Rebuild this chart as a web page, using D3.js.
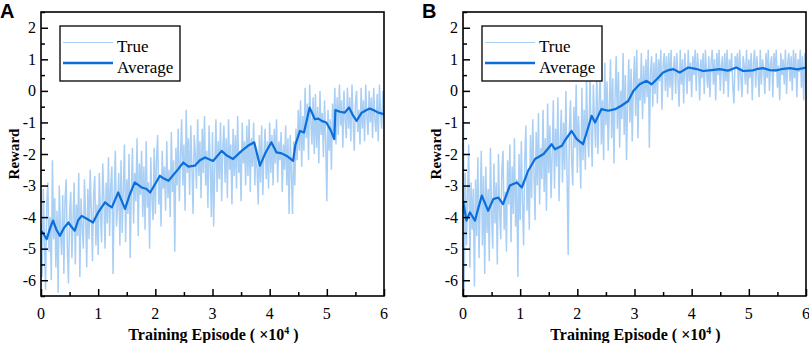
<!DOCTYPE html>
<html><head><meta charset="utf-8">
<script src="https://cdn.jsdelivr.net/npm/d3@7"></script>
<style>body{margin:0;background:#fff;} svg{display:block;}</style>
</head><body>
<svg id="c" width="809" height="343"></svg>
<script>
// ---------- data ----------
const xTicks = [0,1,2,3,4,5,6];
const yTicks = [-6,-5,-4,-3,-2,-1,0,1,2];
const seriesNames = ["True","Average"];
const panelLabels = ["A","B"];
const trueStep = 0.02; // x spacing (×10^4 episodes) of raw reward samples

const trueA = [
-4.2,-5.9,-3.1,-4.8,-6.3,-3.6,-2.9,-5.1,-4.0,-6.0,
-2.2,-4.7,-3.4,-5.6,-3.8,-6.4,-3.0,-4.4,-5.2,-3.3,
-5.8,-3.5,-2.8,-4.9,-6.1,-3.9,-3.2,-5.3,-4.1,-2.9,
-5.5,-3.6,-4.6,-2.6,-5.9,-3.4,-4.3,-5.0,-2.8,-4.0,
-5.6,-3.1,-4.7,-2.5,-3.8,-5.4,-3.3,-2.7,-4.9,-3.6,
-5.2,-2.6,-3.9,-4.8,-2.3,-3.4,-5.0,-2.9,-4.2,-2.1,
-4.6,-3.0,-2.4,-5.8,-3.3,-1.9,-4.3,-3.7,-2.6,-4.9,
-2.2,-4.5,-3.1,-1.7,-4.8,-2.8,-3.9,-2.0,-5.3,-3.2,
-1.8,-4.2,-2.6,-3.5,-1.5,-4.6,-2.3,-3.3,-1.9,-4.0,
-2.4,-4.4,-1.6,-3.7,-2.9,-5.0,-2.1,-3.4,-4.1,-1.8,
-3.9,-2.2,-1.4,-3.6,-2.7,-4.3,-1.9,-3.1,-2.4,-3.8,
-1.6,-3.4,-2.5,-4.0,-1.3,-3.2,-2.2,-5.1,-1.8,-3.0,
-1.2,-3.5,-2.1,-0.9,-3.0,-1.7,-3.8,-0.6,-2.6,-1.5,
-3.3,-1.1,-2.4,-3.9,-1.4,-2.0,-3.1,-0.9,-2.7,-1.6,
-3.4,-1.2,-2.6,-0.8,-3.0,-1.9,-3.7,-1.1,-2.3,-4.0,
-1.3,-4.3,-2.4,-0.9,-3.2,-1.6,-2.8,-1.0,-3.5,-1.8,
-1.1,-2.9,-1.5,-3.4,-0.9,-2.5,-1.7,-3.6,-1.2,-2.7,
-1.4,-3.1,-0.8,-2.6,-1.9,-3.5,-1.0,-2.3,-1.6,-3.0,
-1.1,-2.7,-0.9,-3.2,-1.5,-2.4,-1.0,-3.0,-1.8,-2.5,
-3.6,-1.4,-2.9,-1.1,-3.3,-2.0,-1.2,-2.8,-1.6,-3.1,
-1.0,-2.6,-1.4,-3.0,-1.2,-2.3,-0.9,-2.9,-1.6,-2.2,
-1.3,-3.2,-1.7,-2.5,-1.1,-3.0,-1.5,-3.9,-1.4,-2.6,
-3.9,-1.6,-3.0,-1.2,-2.2,-0.6,-1.9,-0.3,-2.4,-0.8,
-1.9,0.1,-1.5,-0.4,-2.2,0.2,-1.0,-1.7,-0.2,-2.0,
-0.1,-1.8,-0.5,-2.3,0.0,-1.4,-0.7,-2.1,-0.3,-1.6,
-3.5,-0.6,-1.9,-0.9,-2.5,-0.4,-1.3,0.1,-1.7,-0.2,
-1.4,0.2,-1.1,-0.3,-1.8,0.0,-0.9,-1.5,0.1,-1.2,
-0.2,-1.6,0.2,-1.0,-1.9,-0.4,0.0,-1.3,-0.6,-1.7,
0.1,-1.2,-0.3,-1.6,0.2,-0.8,-1.4,0.0,-1.0,-0.2,
-1.5,0.1,-0.9,-1.3,-0.1,-1.6,0.2,-0.7,-1.2,0.0,
-0.9];

const trueB = [
2.4,-6.3,-2.6,-4.9,-3.3,-1.7,-5.6,-2.9,-4.4,-3.1,
-6.2,-2.8,-4.6,-2.1,-5.3,-3.6,-1.9,-4.9,-2.7,-5.8,
-2.4,-4.5,-3.1,-5.4,-1.8,-3.9,-5.0,-2.3,-4.2,-2.9,
-5.5,-2.0,-3.8,-4.7,-2.5,-1.9,-4.4,-3.2,-5.1,-2.2,
-3.6,-1.7,-4.8,-2.4,-3.9,-1.5,-4.3,-2.8,-5.9,-2.0,
-4.1,-1.6,-3.5,-4.9,-2.2,-1.1,-3.8,-2.6,-4.4,-1.4,
-3.4,-0.9,-2.5,-4.1,-1.3,-3.0,-0.7,-3.6,-1.8,-2.8,
-0.6,-3.2,-1.5,-3.8,-0.4,-2.6,-1.1,-3.4,-2.0,-0.3,
-3.1,-1.2,-2.4,-0.2,-3.5,-1.6,-0.6,-2.9,-1.0,-2.5,
0.0,-2.7,-5.2,-1.3,-0.3,-2.2,-3.0,-0.5,-1.8,0.2,
-2.6,-0.8,-1.7,-3.1,0.1,-2.2,-0.6,-2.5,0.4,-1.4,
-2.1,0.5,-1.2,-2.4,0.2,-0.9,-1.8,0.7,-2.0,-0.4,
0.6,-1.7,-0.3,-2.2,0.9,-1.1,0.3,-1.9,-0.5,1.0,
-1.5,0.4,-2.3,-0.2,1.1,-1.2,0.6,-1.8,0.0,-0.9,
1.2,-1.4,0.5,-2.2,-0.3,1.0,-1.0,0.7,-1.6,0.2,
1.1,-0.8,1.3,-1.5,0.4,-0.3,1.2,-0.9,0.8,-0.4,
1.0,-0.2,1.3,-1.8,0.6,1.1,-0.5,0.9,-0.1,1.2,
-0.4,1.0,0.3,1.3,-0.6,0.8,1.2,0.0,1.1,-0.2,
1.2,0.1,1.3,-0.3,0.7,1.1,-0.1,1.2,0.4,-0.5,
1.3,0.2,1.0,-0.4,1.2,0.6,-0.1,1.3,0.3,0.9,
-0.2,1.1,0.5,1.3,0.0,1.2,0.8,-0.3,1.0,0.4,
1.2,-0.1,1.3,0.6,0.1,1.1,-0.2,0.9,1.3,0.2,
1.0,-0.3,1.2,0.5,1.3,0.0,0.8,1.1,-0.1,1.2,
0.3,1.3,-0.2,1.0,0.6,1.2,0.1,-0.4,1.1,0.7,
1.2,0.0,1.3,0.5,-0.2,1.1,0.8,0.2,1.3,-0.1,
1.0,0.4,1.2,-0.3,0.9,1.3,0.1,1.1,0.6,-0.2,
1.3,0.2,1.0,0.7,-0.1,1.2,0.4,1.3,0.0,0.9,
1.1,-0.2,1.2,0.6,1.3,0.1,0.8,-0.3,1.2,0.5,
1.0,0.2,1.3,-0.1,0.9,1.2,0.3,1.1,0.0,1.3,
0.4,1.2,-0.2,1.0,0.6,1.3,0.1,1.1,-0.3,1.2,
0.8];

const avgAX = [0,0.05,0.1,0.16,0.21,0.27,0.33,0.4,0.48,0.53,0.59,0.65,0.71,0.8,0.91,1.0,1.12,1.18,1.24,1.35,1.47,1.55,1.64,1.76,1.84,1.91,2.08,2.15,2.23,2.40,2.49,2.58,2.69,2.78,2.87,3.01,3.16,3.25,3.36,3.51,3.62,3.73,3.83,3.93,4.03,4.12,4.21,4.30,4.41,4.45,4.53,4.60,4.70,4.79,4.85,4.91,4.99,5.07,5.13,5.15,5.23,5.31,5.39,5.45,5.52,5.61,5.68,5.75,5.83,5.90,6.0];
const avgAY = [-4.43,-4.55,-4.7,-4.35,-4.11,-4.4,-4.59,-4.35,-4.17,-4.3,-4.43,-4.1,-3.96,-4.05,-4.17,-3.85,-3.53,-3.62,-3.69,-3.22,-3.74,-3.3,-2.9,-3.06,-3.1,-3.22,-2.69,-2.78,-2.85,-2.48,-2.27,-2.4,-2.37,-2.2,-2.11,-2.22,-1.9,-2.05,-2.16,-1.9,-1.74,-1.63,-2.37,-1.95,-1.63,-1.95,-1.98,-2.06,-2.22,-1.7,-1.27,-1.32,-0.53,-0.9,-0.88,-0.95,-1.0,-1.25,-1.53,-0.61,-0.66,-0.69,-0.53,-0.75,-0.95,-0.69,-0.62,-0.56,-0.62,-0.69,-0.74];

const avgBX = [0,0.06,0.12,0.21,0.27,0.33,0.44,0.53,0.62,0.70,0.82,0.94,1.03,1.14,1.26,1.41,1.55,1.61,1.73,1.78,1.90,1.99,2.10,2.19,2.25,2.31,2.42,2.54,2.66,2.77,2.89,2.98,3.09,3.21,3.30,3.39,3.50,3.60,3.68,3.79,3.94,4.07,4.20,4.35,4.49,4.63,4.78,4.90,5.07,5.16,5.25,5.36,5.48,5.60,5.72,5.85,6.0];
const avgBY = [-3.48,-4.11,-3.85,-4.11,-3.7,-3.32,-3.8,-3.43,-3.38,-3.59,-3.0,-2.9,-3.06,-2.53,-2.16,-2.0,-1.69,-1.85,-1.74,-1.58,-1.27,-1.53,-1.69,-1.16,-0.79,-1.0,-0.58,-0.63,-0.58,-0.47,-0.32,0.0,0.21,0.32,0.21,0.37,0.58,0.66,0.69,0.58,0.74,0.70,0.63,0.66,0.69,0.64,0.74,0.63,0.65,0.70,0.72,0.66,0.65,0.70,0.72,0.68,0.74];

// ---------- drawing ----------
const svg = d3.select("#c");
const W = 343; // inner width
const plotTop = 12, plotBottom = 296;
const panels = [
  {left: 41, label: panelLabels[0], trueV: trueA, ax: avgAX, ay: avgAY, labelX: 0},
  {left: 463, label: panelLabels[1], trueV: trueB, ax: avgBX, ay: avgBY, labelX: 422}
];
const serif = "'Liberation Serif','Times New Roman',serif";
const cTrue = "#aacff5", cAvg = "#0a6fdc";

panels.forEach((p, pi) => {
  const x = d3.scaleLinear().domain([0,6]).range([p.left, p.left + W]);
  const y = d3.scaleLinear().domain([-6.5,2.5]).range([plotBottom, plotTop]);
  const g = svg.append("g");
  const cid = "clip" + pi;
  svg.append("clipPath").attr("id", cid).append("rect")
    .attr("x", p.left).attr("y", plotTop).attr("width", W).attr("height", plotBottom - plotTop);

  const trueData = p.trueV.map((v,i) => [i*trueStep, v]);
  const line = d3.line().x(d => x(d[0])).y(d => y(d[1]));
  g.append("path").datum(trueData).attr("clip-path", `url(#${cid})`)
    .attr("d", line).attr("fill","none").attr("stroke", cTrue).attr("stroke-width", 1.5)
    .attr("stroke-linejoin","miter").attr("stroke-miterlimit", 2);
  const avgData = p.ax.map((v,i) => [v, p.ay[i]]);
  g.append("path").datum(avgData).attr("clip-path", `url(#${cid})`)
    .attr("d", line).attr("fill","none").attr("stroke", cAvg).attr("stroke-width", 2.2)
    .attr("stroke-linejoin","round");

  // axes (inward ticks)
  const xAx = g.append("g").attr("transform", `translate(0,${plotBottom})`)
    .call(d3.axisBottom(x).tickValues(d3.range(0,6.01,0.5)).tickSize(-4).tickFormat(""));
  xAx.selectAll(".tick line").attr("stroke-width",1.5)
    .filter(d => Number.isInteger(d)).attr("y2", -7);
  xAx.select(".domain").remove();
  xTicks.forEach(t => {
    g.append("text").attr("x", x(t)).attr("y", plotBottom + 23).attr("text-anchor","middle")
      .attr("font-family", serif).attr("font-size", 16).text(t);
  });
  const yAx = g.append("g").attr("transform", `translate(${p.left},0)`)
    .call(d3.axisLeft(y).tickValues(d3.range(-6.5,2.51,0.5)).tickSize(-4).tickFormat(""));
  yAx.selectAll(".tick line").attr("stroke-width",1.5)
    .filter(d => Number.isInteger(d)).attr("x2", 7);
  yAx.select(".domain").remove();
  yTicks.forEach(t => {
    g.append("text").attr("x", p.left - 5).attr("y", y(t) + 5.5).attr("text-anchor","end")
      .attr("font-family", serif).attr("font-size", 16).text(t);
  });
  // frame
  g.append("rect").attr("x", p.left).attr("y", plotTop).attr("width", W).attr("height", plotBottom - plotTop)
    .attr("fill","none").attr("stroke","#000").attr("stroke-width",1.6);

  // titles
  const xt = g.append("text").attr("x", p.left + W/2 + 1).attr("y", 340).attr("text-anchor","middle")
    .attr("font-family", serif).attr("font-size", 16).attr("font-weight","bold");
  xt.append("tspan").text("Training Episode ( ×10");
  xt.append("tspan").attr("dy", -6).attr("font-size", 10).text("4");
  xt.append("tspan").attr("dy", 6).text(" )");
  g.append("text").attr("transform", `translate(${p.left - 22},${(plotTop+plotBottom)/2}) rotate(-90)`)
    .attr("text-anchor","middle").attr("font-family", serif).attr("font-size", 15)
    .attr("font-weight","bold").text("Reward");
  g.append("text").attr("x", p.labelX).attr("y", 18).attr("font-family","'Liberation Sans',Arial,sans-serif")
    .attr("font-size", 20).attr("font-weight","bold").text(p.label);

  // legend
  const lx = p.left + 19, ly = 26;
  g.append("rect").attr("x", lx).attr("y", ly).attr("width", 120).attr("height", 55)
    .attr("fill","#fff").attr("stroke","#000").attr("stroke-width",1.3);
  [[cTrue,1.2],[cAvg,2.4]].forEach((s,i) => {
    const yy = ly + 16.5 + i*20.5;
    g.append("line").attr("x1", lx + 3).attr("x2", lx + 53).attr("y1", yy).attr("y2", yy)
      .attr("stroke", s[0]).attr("stroke-width", s[1]);
    g.append("text").attr("x", lx + 57).attr("y", yy + 9.5).attr("font-family", serif)
      .attr("font-size", 17).text(seriesNames[i]);
  });
});
</script>
</body></html>
